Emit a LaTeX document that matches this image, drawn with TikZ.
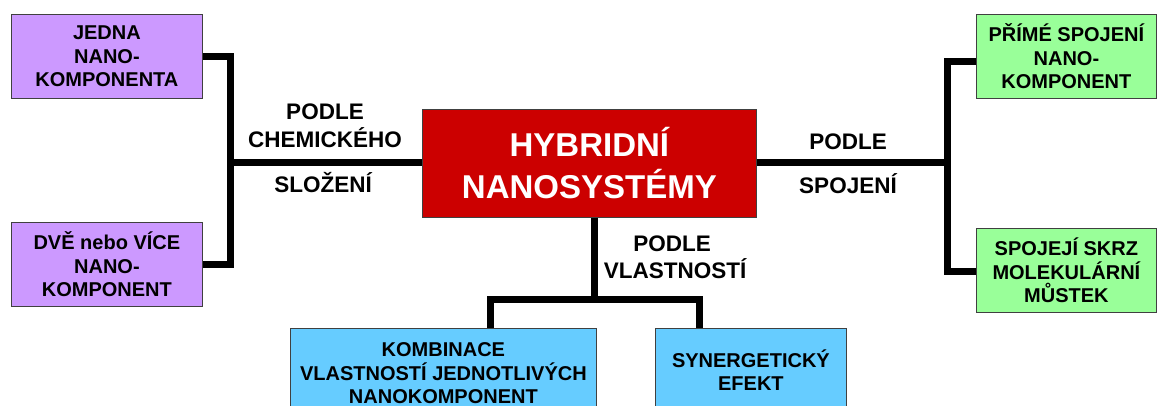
\documentclass[tikz,border=0pt]{standalone}
\usepackage{fontspec}
\setmainfont{Liberation Sans}
\definecolor{purp}{HTML}{CC99FF}
\definecolor{grn}{HTML}{99FF99}
\definecolor{blu}{HTML}{66CCFF}
\definecolor{redb}{HTML}{CC0000}
\definecolor{bordc}{HTML}{404040}
\begin{document}
\begin{tikzpicture}[x=1pt,y=-1pt,
  box/.style={draw=bordc, line width=0.8pt, inner sep=0pt, anchor=north west,
    align=center, font=\bfseries\fontsize{20}{23.5}\selectfont},
  lbl/.style={inner sep=0pt, anchor=base, font=\bfseries\fontsize{22.5}{27}\selectfont},
  conn/.style={line width=7pt}]
\clip (0,0) rectangle (1157,406);
% boxes
\node[box, fill=purp, minimum width=191pt, minimum height=84pt] (p1) at (11,14) {JEDNA\\NANO-\\KOMPONENTA};
\node[box, fill=purp, minimum width=191pt, minimum height=84pt] (p2) at (11,222) {DVĚ nebo VÍCE\\NANO-\\KOMPONENT};
\node[box, fill=redb, text=white, minimum width=334pt, minimum height=108pt,
  font=\bfseries\fontsize{33}{42}\selectfont] (hub) at (422,109) {HYBRIDNÍ\\NANOSYSTÉMY};
\node[box, fill=grn, minimum width=180pt, minimum height=84pt] (g1) at (976,14) {PŘÍMÉ SPOJENÍ\\NANO-\\KOMPONENT};
\node[box, fill=grn, minimum width=180pt, minimum height=84pt] (g2) at (976,228) {SPOJEJÍ SKRZ\\MOLEKULÁRNÍ\\MŮSTEK};
\node[box, fill=blu, minimum width=306pt, minimum height=90pt] (b1) at (290,328) {KOMBINACE\\VLASTNOSTÍ JEDNOTLIVÝCH\\NANOKOMPONENT};
\node[box, fill=blu, minimum width=191pt, minimum height=83pt] (b2) at (655,328) {SYNERGETICKÝ\\EFEKT};
% labels
\node[lbl] (l1) at (325,120) {PODLE};
\node[lbl] (l2) at (325,148) {CHEMICKÉHO};
\node[lbl] (l3) at (323,193) {SLOŽENÍ};
\node[lbl] (r1) at (848,150) {PODLE};
\node[lbl] (r2) at (848,194) {SPOJENÍ};
\node[lbl] (d1) at (672,252) {PODLE};
\node[lbl] (d2) at (675,279) {VLASTNOSTÍ};
% junctions
\coordinate (jl) at (230,163);
\coordinate (jr) at (947,163);
\coordinate (jb) at (594,299);
\coordinate (s1) at (490,299);
\coordinate (s2) at (699,299);
% connectors
\draw[conn] (p1.east) -| (jl) |- (p2.east);
\draw[conn] (jl) -- (hub.west |- jl);
\draw[conn] ([yshift=-5pt]g1.west) -| (jr) |- ([yshift=-1pt]g2.west);
\draw[conn] (jr) -- (hub.east |- jr);
\draw[conn] (hub.south -| jb) -- (jb);
\draw[conn] (b1.north -| s1) |- (jb) -| (b2.north -| s2);
\end{tikzpicture}
\end{document}
